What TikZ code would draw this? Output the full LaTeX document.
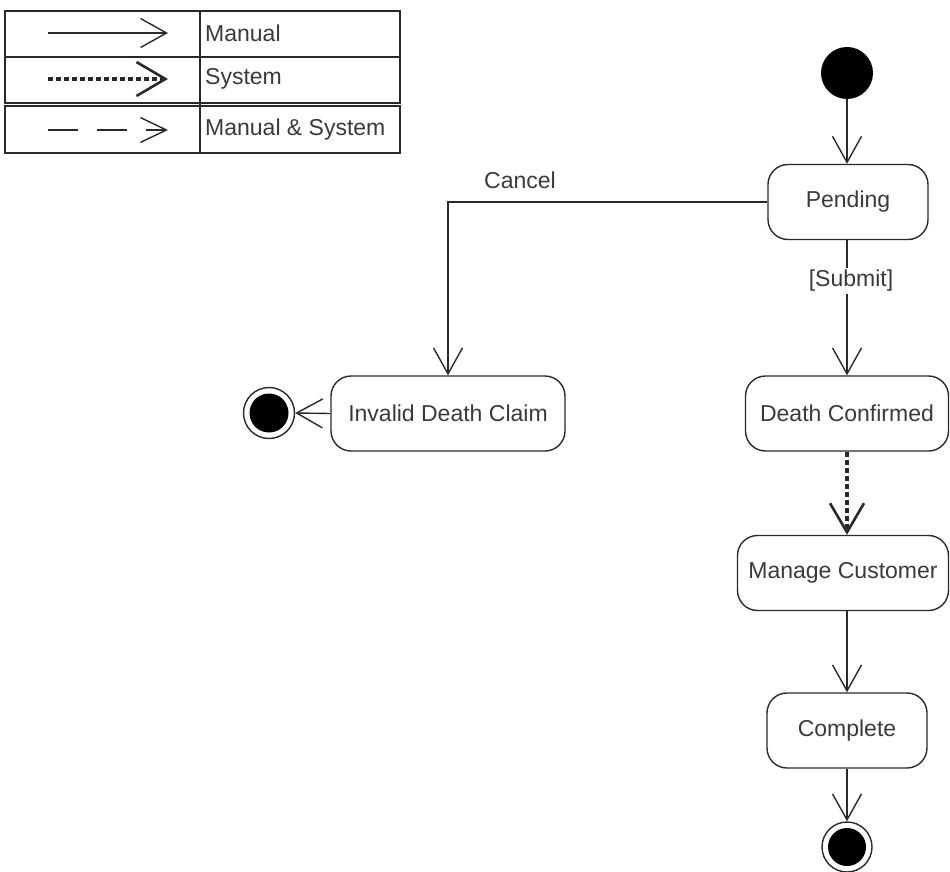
\documentclass[tikz,border=0pt]{standalone}
\usepackage{fontspec}
\setmainfont{Liberation Sans}
\usetikzlibrary{arrows.meta}
\definecolor{ink}{HTML}{2A2A2A}
\definecolor{txt}{HTML}{3A3A3A}
\tikzset{
  lbl/.style={font=\fontsize{23}{27}\selectfont, text=txt, inner sep=0pt},
  state/.style={draw=ink, line width=1.4pt, rounded corners=20pt, minimum height=75pt, inner sep=0pt, font=\fontsize{23}{27}\selectfont, text=txt},
  manual/.style={draw=ink, line width=1.4pt, -{Straight Barb[length=26pt,width=29pt]}},
  system/.style={draw=ink, -{Straight Barb[length=29pt,width=34pt,line width=2.6pt]}, line width=3.2pt, dash pattern=on 5pt off 3pt},
  mansys/.style={draw=ink, line width=1.4pt, dash pattern=on 30pt off 19pt, -{Straight Barb[length=26pt,width=25pt]}},
  legbox/.style={draw=ink, line width=1.4pt},
}
\begin{document}
\begin{tikzpicture}[x=1pt,y=-1pt]
\useasboundingbox (0,0) rectangle (950,872);
% legend
\draw[legbox] (5,11) rectangle (400,57);
\draw[legbox] (5,57) rectangle (400,103);
\draw[legbox] (5,106) rectangle (400,153);
\draw[legbox] (200,11) -- (200,153);
\coordinate (m1) at (48,33); \coordinate (m2) at (168,33);
\coordinate (s1) at (48,79); \coordinate (s2) at (168,79);
\coordinate (d1) at (48,130); \coordinate (d2) at (168,130);
\draw[manual] (m1) -- (m2);
\draw[system, line width=3.2pt] (s1) -- (s2);
\draw[mansys] (d1) -- (d2);
\node[lbl, anchor=west] (lm) at (205,33) {Manual};
\node[lbl, anchor=west] (ls) at (205,79) {System};
\node[lbl, anchor=west] (lms) at (205,130) {Manual \& System};
% states
\node[circle, fill=black, minimum size=52pt, inner sep=0pt] (start) at (847,73) {};
\node[state, minimum width=160pt] (pend) at (848,202) {Pending};
\node[state, minimum width=234pt] (inv) at (448,413.5) {Invalid Death Claim};
\node[state, minimum width=203pt] (dc) at (847,413.5) {Death Confirmed};
\node[state, minimum width=211pt] (mc) at (843,573) {Manage Customer};
\node[state, minimum width=160pt] (comp) at (847,730.5) {Complete};
\node[circle, draw=ink, line width=1.4pt, minimum size=51pt, inner sep=0pt,
  path picture={\fill[black] (path picture bounding box.center) circle (19.5pt);}] (finL) at (269,413) {};
\node[circle, draw=ink, line width=1.4pt, minimum size=50pt, inner sep=0pt,
  path picture={\fill[black] (path picture bounding box.center) circle (19pt);}] (finB) at (847,847) {};
% transitions
\draw[manual] (start) -- (start |- pend.north);
\draw[manual] (pend.west) -| (inv.north);
\node[lbl] (cancel) at (520,180) {Cancel};
\draw[manual] (pend.south -| dc.north) -- (dc.north);
\node[lbl, fill=white, inner sep=2pt] (submit) at (851,281) {[Submit]};
\draw[manual] (inv.west) -- (finL.east);
\draw[system, line width=3.2pt] (dc.south) -- (dc.south |- mc.north);
\draw[manual] (mc.south -| comp.north) -- (comp.north);
\draw[manual] (comp.south) -- (finB.north);
\end{tikzpicture}
\end{document}
